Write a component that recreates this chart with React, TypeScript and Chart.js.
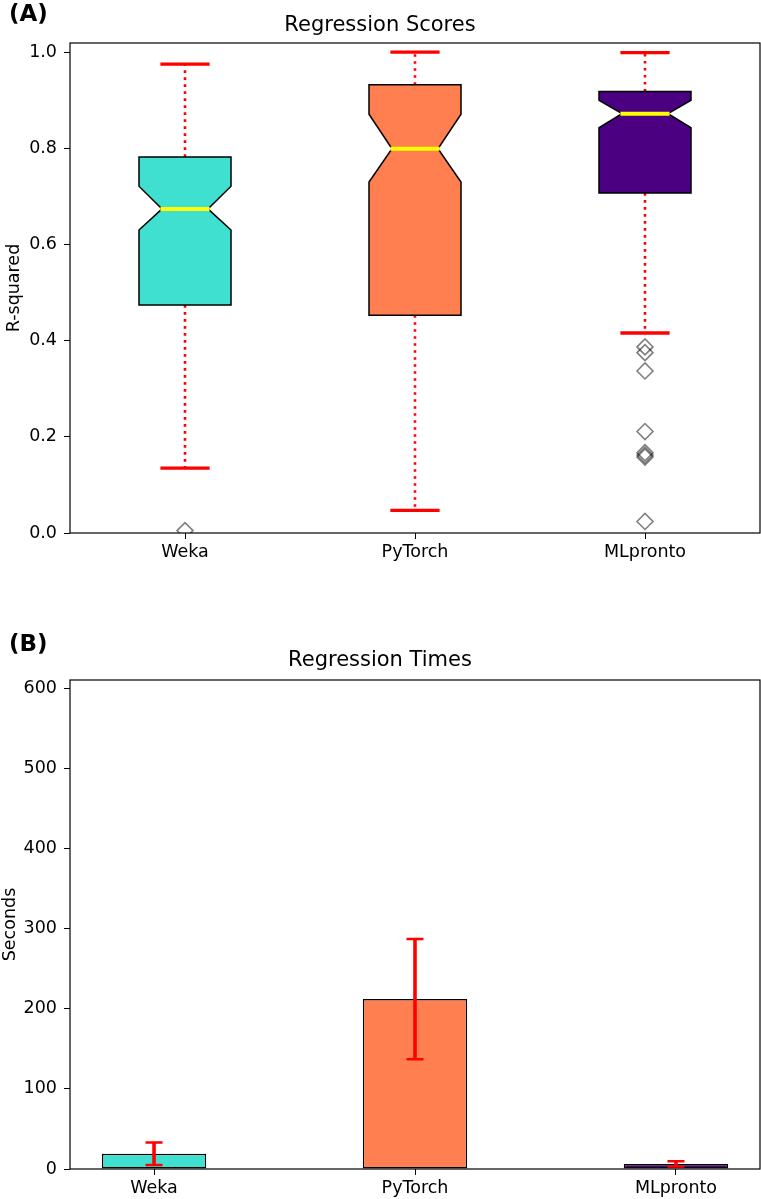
import React, { useEffect, useRef } from "react";
import { Chart, registerables } from "chart.js";

Chart.register(...registerables);

// ---------- data ----------
const categories = ["Weka", "PyTorch", "MLpronto"];
const boxColors = ["#40E0D0", "#FF7F50", "#4B0082"];

// Panel A: regression scores (box plot statistics)
const q1Scores = [0.474, 0.453, 0.707];
const medianScores = [0.674, 0.799, 0.872];
const q3Scores = [0.782, 0.932, 0.918];
const notchLowScores = [0.63, 0.73, 0.843];
const notchHighScores = [0.721, 0.871, 0.9];
const whiskerLowScores = [0.135, 0.047, 0.416];
const whiskerHighScores = [0.975, 1.0, 0.999];
const outliersWeka = [0.005];
const outliersPyTorch: number[] = [];
const outliersMLpronto = [0.387, 0.375, 0.337, 0.211, 0.167, 0.162, 0.158, 0.024];
const scoreTicks = [0.0, 0.2, 0.4, 0.6, 0.8, 1.0];

// Panel B: regression times (mean +/- error)
const meanTimes = [19, 212, 6.3];
const errorTimes = [14, 75, 3.3];
const timeTicks = [0, 100, 200, 300, 400, 500, 600];

const FONT = "'DejaVu Sans', 'Liberation Sans', sans-serif";
Chart.defaults.font.family = FONT;
Chart.defaults.color = "#000";

const TICK_SIZE = 17.5;
const TITLE_SIZE = 21;

const framePlugin = {
  id: "frame",
  afterDatasetsDraw(chart: any) {
    const { ctx, chartArea } = chart;
    ctx.save();
    ctx.strokeStyle = "#000";
    ctx.lineWidth = 1.2;
    ctx.strokeRect(chartArea.left, chartArea.top, chartArea.right - chartArea.left, chartArea.bottom - chartArea.top);
    ctx.restore();
  },
};

const boxPlugin = {
  id: "notchedBoxes",
  beforeDatasetsDraw(chart: any) {
    const { ctx, scales } = chart;
    const xs = scales.x;
    const ys = scales.y;
    const X = (v: number) => xs.getPixelForValue(v);
    const Y = (v: number) => ys.getPixelForValue(v);
    const halfBox = 0.2;
    const halfNotch = 0.1;
    const halfCap = 0.107;
    categories.forEach((_, i) => {
      const c = i + 1;
      ctx.save();
      // whiskers (dotted)
      ctx.strokeStyle = "#FF0000";
      ctx.lineWidth = 2.6;
      ctx.lineCap = "butt";
      ctx.setLineDash([2.6, 4.4]);
      ctx.beginPath();
      ctx.moveTo(X(c), Y(q3Scores[i]));
      ctx.lineTo(X(c), Y(whiskerHighScores[i]));
      ctx.moveTo(X(c), Y(q1Scores[i]));
      ctx.lineTo(X(c), Y(whiskerLowScores[i]));
      ctx.stroke();
      // caps
      ctx.setLineDash([]);
      ctx.lineWidth = 3.4;
      ctx.beginPath();
      ctx.moveTo(X(c - halfCap), Y(whiskerHighScores[i]));
      ctx.lineTo(X(c + halfCap), Y(whiskerHighScores[i]));
      ctx.moveTo(X(c - halfCap), Y(whiskerLowScores[i]));
      ctx.lineTo(X(c + halfCap), Y(whiskerLowScores[i]));
      ctx.stroke();
      // notched box
      ctx.beginPath();
      ctx.moveTo(X(c - halfBox), Y(q1Scores[i]));
      ctx.lineTo(X(c + halfBox), Y(q1Scores[i]));
      ctx.lineTo(X(c + halfBox), Y(notchLowScores[i]));
      ctx.lineTo(X(c + halfNotch), Y(medianScores[i]));
      ctx.lineTo(X(c + halfBox), Y(notchHighScores[i]));
      ctx.lineTo(X(c + halfBox), Y(q3Scores[i]));
      ctx.lineTo(X(c - halfBox), Y(q3Scores[i]));
      ctx.lineTo(X(c - halfBox), Y(notchHighScores[i]));
      ctx.lineTo(X(c - halfNotch), Y(medianScores[i]));
      ctx.lineTo(X(c - halfBox), Y(notchLowScores[i]));
      ctx.closePath();
      ctx.fillStyle = boxColors[i];
      ctx.fill();
      ctx.strokeStyle = "#000";
      ctx.lineWidth = 1.5;
      ctx.lineJoin = "miter";
      ctx.stroke();
      // median
      ctx.strokeStyle = "#FFFF00";
      ctx.lineWidth = 4;
      ctx.beginPath();
      ctx.moveTo(X(c - 0.107), Y(medianScores[i]));
      ctx.lineTo(X(c + 0.107), Y(medianScores[i]));
      ctx.stroke();
      ctx.restore();
    });
  },
};

const errorBarPlugin = {
  id: "errorBars",
  afterDatasetsDraw(chart: any) {
    const { ctx, scales } = chart;
    const xs = scales.x;
    const ys = scales.y;
    meanTimes.forEach((m, i) => {
      const px = xs.getPixelForValue(i);
      const top = ys.getPixelForValue(m + errorTimes[i]);
      const bot = ys.getPixelForValue(m - errorTimes[i]);
      ctx.save();
      ctx.strokeStyle = "#FF0000";
      ctx.lineWidth = 3.6;
      ctx.beginPath();
      ctx.moveTo(px, top);
      ctx.lineTo(px, bot);
      ctx.stroke();
      ctx.lineWidth = 2.4;
      ctx.beginPath();
      ctx.moveTo(px - 8.5, top);
      ctx.lineTo(px + 8.5, top);
      ctx.moveTo(px - 8.5, bot);
      ctx.lineTo(px + 8.5, bot);
      ctx.stroke();
      ctx.restore();
    });
  },
};

const tickGrid = {
  drawOnChartArea: false,
  drawTicks: true,
  offset: false,
  tickLength: 6,
  tickColor: "#000",
  tickWidth: 1,
};

export default function App() {
  const topRef = useRef<HTMLCanvasElement>(null);
  const botRef = useRef<HTMLCanvasElement>(null);

  useEffect(() => {
    const outlierPoints = [
      ...outliersWeka.map((v) => ({ x: 1, y: v })),
      ...outliersPyTorch.map((v) => ({ x: 2, y: v })),
      ...outliersMLpronto.map((v) => ({ x: 3, y: v })),
    ];
    const top = new Chart(topRef.current!, {
      type: "scatter",
      data: {
        datasets: [
          {
            data: outlierPoints,
            pointStyle: "rectRot",
            pointRadius: 8,
            pointBorderWidth: 1.6,
            borderColor: "rgba(0,0,0,0.5)",
            backgroundColor: "rgba(0,0,0,0)",
            showLine: false,
          },
        ],
      },
      options: {
        animation: false,
        responsive: false,
        layout: { autoPadding: false, padding: { left: 0, right: 1, top: 0, bottom: 0 } },
        plugins: {
          legend: { display: false },
          tooltip: { enabled: false },
          title: {
            display: true,
            text: "Regression Scores",
            color: "#000",
            font: { size: TITLE_SIZE, weight: "normal", family: FONT, lineHeight: 1.2 },
            padding: { top: 13.4, bottom: 4.4 },
          },
        },
        scales: {
          x: {
            type: "linear",
            min: 0.5,
            max: 3.5,
            afterBuildTicks: (s: any) => {
              s.ticks = categories.map((_, i) => ({ value: i + 1 }));
            },
            afterFit: (s: any) => {
              s.height = 57;
            },
            ticks: {
              autoSkip: false,
              maxRotation: 0,
              padding: 3,
              color: "#000",
              font: { size: TICK_SIZE },
              callback: (v: any) => categories[Math.round(v) - 1] ?? "",
            },
            grid: tickGrid,
            border: { display: false },
          },
          y: {
            type: "linear",
            min: 0,
            max: 1.019,
            afterBuildTicks: (s: any) => {
              s.ticks = scoreTicks.map((v) => ({ value: v }));
            },
            afterFit: (s: any) => {
              s.width = 70;
            },
            ticks: {
              padding: 7,
              color: "#000",
              font: { size: TICK_SIZE },
              callback: (v: any) => Number(v).toFixed(1),
            },
            grid: tickGrid,
            border: { display: false },
            title: {
              display: true,
              text: "R-squared",
              color: "#000",
              font: { size: TICK_SIZE, lineHeight: 1.2 },
              padding: { top: 4, bottom: 0 },
            },
          },
        },
      },
      plugins: [boxPlugin, framePlugin],
    } as any);

    const bottom = new Chart(botRef.current!, {
      type: "bar",
      data: {
        datasets: [
          {
            data: meanTimes.map((m, i) => ({ x: i, y: m })),
            backgroundColor: boxColors,
            borderColor: "#000",
            borderWidth: 1.5,
            borderSkipped: false,
            barPercentage: 0.4,
            categoryPercentage: 1,
          },
        ],
      },
      options: {
        animation: false,
        responsive: false,
        layout: { autoPadding: false, padding: { left: 0, right: 1, top: 0, bottom: 0 } },
        plugins: {
          legend: { display: false },
          tooltip: { enabled: false },
          title: {
            display: true,
            text: "Regression Times",
            color: "#000",
            font: { size: TITLE_SIZE, weight: "normal", family: FONT, lineHeight: 1.2 },
            padding: { top: 58.4, bottom: 6.4 },
          },
        },
        scales: {
          x: {
            type: "linear",
            min: -0.322,
            max: 2.322,
            offset: false,
            afterBuildTicks: (s: any) => {
              s.ticks = categories.map((_, i) => ({ value: i }));
            },
            afterFit: (s: any) => {
              s.height = 30;
            },
            ticks: {
              autoSkip: false,
              maxRotation: 0,
              padding: 3,
              color: "#000",
              font: { size: TICK_SIZE },
              callback: (v: any) => categories[Math.round(v)] ?? "",
            },
            grid: tickGrid,
            border: { display: false },
          },
          y: {
            type: "linear",
            min: 0,
            max: 610,
            afterBuildTicks: (s: any) => {
              s.ticks = timeTicks.map((v) => ({ value: v }));
            },
            afterFit: (s: any) => {
              s.width = 70;
            },
            ticks: {
              padding: 7,
              color: "#000",
              font: { size: TICK_SIZE },
              callback: (v: any) => String(v),
            },
            grid: tickGrid,
            border: { display: false },
            title: {
              display: true,
              text: "Seconds",
              color: "#000",
              font: { size: TICK_SIZE, lineHeight: 1.2 },
              padding: { top: 0, bottom: 0 },
            },
          },
        },
      },
      plugins: [errorBarPlugin, framePlugin],
    } as any);

    return () => {
      top.destroy();
      bottom.destroy();
    };
  }, []);

  const panelLabel: React.CSSProperties = {
    position: "absolute",
    left: 9,
    fontFamily: FONT,
    fontWeight: "bold",
    fontSize: 23,
    lineHeight: "24px",
    color: "#000",
  };

  return (
    <div style={{ position: "absolute", left: 0, top: 0, width: 761, height: 1199, background: "#fff" }}>
      <canvas ref={topRef} width={761} height={590} style={{ position: "absolute", left: 0, top: 0, width: 761, height: 590 }} />
      <canvas ref={botRef} width={761} height={609} style={{ position: "absolute", left: 0, top: 590, width: 761, height: 609 }} />
      <div style={{ ...panelLabel, top: 1 }}>(A)</div>
      <div style={{ ...panelLabel, top: 631 }}>(B)</div>
    </div>
  );
}
